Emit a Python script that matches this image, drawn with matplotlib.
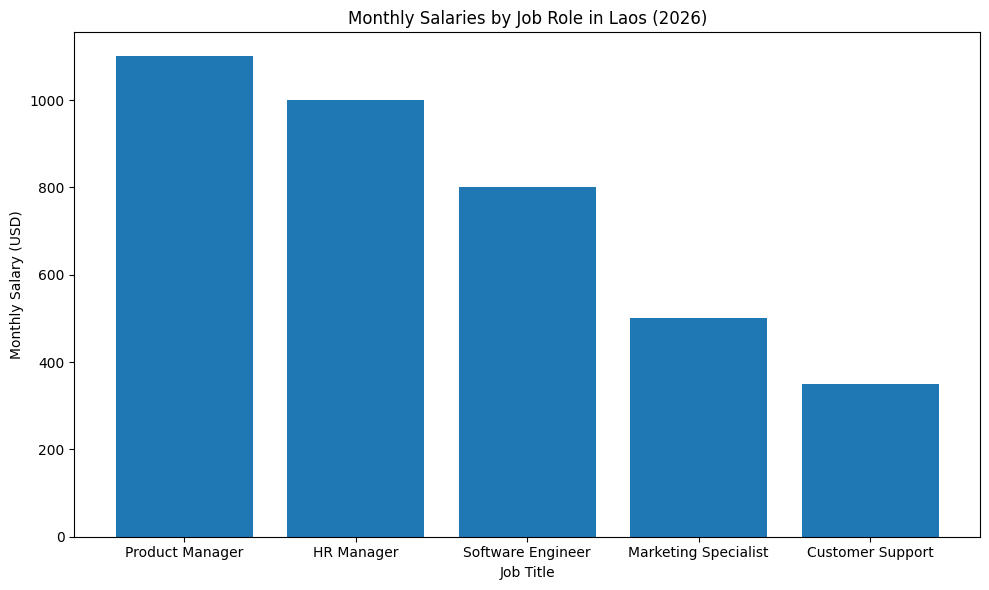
import matplotlib
matplotlib.use('Agg')
import matplotlib.pyplot as plt

# data
job_titles = ['Product Manager', 'HR Manager', 'Software Engineer',
              'Marketing Specialist', 'Customer Support']
salaries = [1100, 1000, 800, 500, 350]

plt.figure(figsize=(10, 6), dpi=100)
plt.bar(job_titles, salaries, color='#1f77b4')
plt.title('Monthly Salaries by Job Role in Laos (2026)')
plt.xlabel('Job Title')
plt.ylabel('Monthly Salary (USD)')
plt.tight_layout()
plt.savefig('out.png', dpi=100, bbox_inches='tight')
